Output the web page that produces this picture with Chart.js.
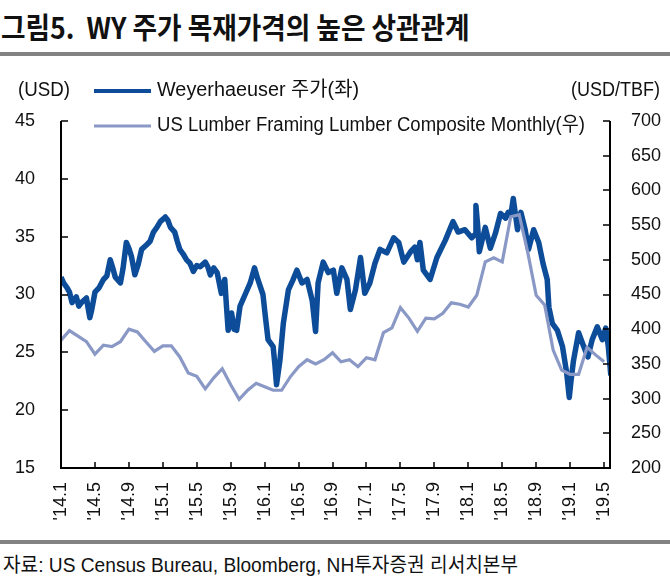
<!DOCTYPE html>
<html>
<head>
<meta charset="utf-8">
<script src="https://cdn.jsdelivr.net/npm/chart.js@4.4.1/dist/chart.umd.min.js"></script>
<style>
  body { margin: 0; background: #fff; width: 670px; height: 584px; overflow: hidden; position: relative; }
  #title { position: absolute; left: 1px; top: 5px; font: bold 29px "Liberation Sans Narrow", "Noto Sans CJK KR", sans-serif; white-space: nowrap; transform-origin: 0 0; color: #111; }
  .bar { position: absolute; left: 0; width: 670px; height: 4px; background: #828282; }
  #source { position: absolute; left: 3px; top: 549px; font: 20px "Liberation Sans", "Noto Sans CJK KR", sans-serif; white-space: nowrap; transform-origin: 0 0; color: #111; }
  #wrap { position: absolute; left: 0; top: 0; width: 670px; height: 540px; }
</style>
</head>
<body>
<div id="title">그림5.&nbsp; WY 주가 목재가격의 높은 상관관계</div>
<div class="bar" style="top:52px"></div>
<div id="wrap"><canvas id="myChart"></canvas></div>
<div class="bar" style="top:540px"></div>
<div id="source">자료: US Census Bureau, Bloomberg, NH투자증권 리서치본부</div>
<script>
// months counted from Jan 2014 (0 = '14.1)
const xTickLabels = ["'14.1","'14.5","'14.9","'15.1","'15.5","'15.9","'16.1","'16.5","'16.9",
  "'17.1","'17.5","'17.9","'18.1","'18.5","'18.9","'19.1","'19.5"];

// Weyerhaeuser share price (USD, left axis)
const wyMonth = [0,0.3,0.7,1.0,1.3,1.8,2.1,2.4,3.0,3.2,3.4,3.6,4.0,4.5,5.0,5.4,5.8,6.1,6.4,7.0,
  7.3,7.7,8.0,8.3,8.7,9.1,9.5,10.1,10.5,10.9,11.3,11.7,12.3,12.6,12.9,13.4,13.7,14.0,14.4,14.8,
  15.2,15.6,16.0,16.4,17.0,17.3,17.6,18.0,18.4,18.9,19.3,19.5,19.7,20.1,20.4,20.7,21.1,21.7,22.3,22.8,
  23.2,23.8,24.1,24.4,25.0,25.2,25.4,25.8,26.2,26.8,27.3,27.8,28.4,29.0,29.6,30.0,30.3,30.9,31.5,32.1,
  32.5,33.1,33.7,34.1,34.7,35.3,35.8,36.4,37.0,37.6,38.4,39.2,39.8,40.4,41.2,41.7,42.0,42.3,42.7,43.5,
  44.3,45.3,46.2,46.8,47.6,48.4,48.8,48.9,49.1,49.3,50.0,50.6,51.2,51.8,52.4,52.7,53.0,53.3,53.8,54.2,
  54.7,55.1,55.7,56.3,56.8,57.3,57.5,57.9,58.5,59.1,59.6,59.9,60.1,60.4,61.0,61.6,62.1,62.6,63.2,63.8,
  64.2,64.5,64.8];
const wyPrice = [31.5,31.0,30.6,30.2,29.3,29.8,29.0,29.3,29.7,28.8,28.0,28.6,30.2,30.6,31.3,31.6,33.0,32.3,31.5,31.0,
  32.2,34.5,34.0,33.3,31.7,32.6,33.9,34.3,34.6,35.4,35.8,36.3,36.7,36.4,35.8,35.4,34.6,33.9,33.5,33.0,
  32.7,32.0,32.5,32.4,32.8,32.4,31.7,32.3,31.9,30.1,31.3,29.0,26.9,28.4,27.0,26.9,29.0,30.0,31.0,32.3,
  31.3,30.0,28.0,26.1,25.5,24.0,22.2,24.3,27.5,30.4,31.2,32.1,31.0,31.3,29.5,26.8,31.0,32.8,31.9,32.1,
  30.1,32.3,31.3,28.7,30.4,33.2,30.1,31.0,32.7,33.9,33.6,34.9,34.5,32.8,33.7,34.1,33.0,34.5,32.1,31.3,
  33.2,34.7,36.3,35.4,35.6,34.9,35.2,37.7,36.0,33.7,35.8,34.0,35.3,37.0,36.6,37.1,36.8,38.3,35.6,37.1,
  35.6,33.9,35.6,34.5,32.7,31.3,28.9,27.5,26.9,25.5,23.2,21.1,22.5,24.3,26.7,25.5,24.6,26.1,27.2,26.1,
  27.1,25.5,23.0];

// US framing lumber composite, monthly (USD/TBF, right axis), Jan 2014 .. May 2019
const lumberPrice = [384,398,390,382,364,377,375,382,400,396,382,368,376,376,360,337,332,314,330,343,
  320,299,312,322,317,312,312,331,346,356,350,356,366,353,356,346,359,356,395,402,
  431,416,397,416,415,423,438,436,432,449,497,503,497,562,565,511,449,435,370,341,
  335,335,374,363,353];

const wyColor = '#0d4c98';
const lumberColor = '#8a98c6';
const fontMain = '"Liberation Sans", "Noto Sans CJK KR", sans-serif';

const wyData = wyMonth.map((m, i) => ({ x: m, y: wyPrice[i] }));
const lumberData = lumberPrice.map((v, i) => ({ x: i, y: v }));

function fitText(ctx, text, x, y, w) {
  const mw = ctx.measureText(text).width;
  ctx.save();
  ctx.translate(x, y);
  ctx.scale(w / mw, 1);
  ctx.fillText(text, 0, 0);
  ctx.restore();
}

const decor = {
  id: 'decor',
  afterDraw(chart) {
    const { ctx, chartArea: a, scales } = chart;
    ctx.save();
    // frame
    ctx.strokeStyle = '#000';
    ctx.lineWidth = 2;
    ctx.beginPath();
    ctx.moveTo(a.left, a.top);
    ctx.lineTo(a.left, a.bottom);
    ctx.lineTo(a.right, a.bottom);
    ctx.lineTo(a.right, a.top);
    ctx.stroke();
    // inward ticks
    ctx.lineWidth = 1.5;
    ctx.beginPath();
    scales.y.ticks.forEach(t => {
      const y = Math.round(scales.y.getPixelForValue(t.value));
      ctx.moveTo(a.left, y); ctx.lineTo(a.left + 7, y);
    });
    scales.y1.ticks.forEach(t => {
      const y = Math.round(scales.y1.getPixelForValue(t.value));
      ctx.moveTo(a.right, y); ctx.lineTo(a.right - 7, y);
    });
    scales.x.ticks.forEach(t => {
      const x = Math.round(scales.x.getPixelForValue(t.value));
      ctx.moveTo(x, a.bottom); ctx.lineTo(x, a.bottom - 6);
    });
    ctx.stroke();

    // legend and unit labels
    ctx.fillStyle = '#111';
    ctx.textBaseline = 'middle';
    ctx.font = '20px ' + fontMain;
    fitText(ctx, '(USD)', 18, 90, 52);
    fitText(ctx, '(USD/TBF)', 571, 90, 89);
    fitText(ctx, 'Weyerhaeuser 주가(좌)', 157, 90, 202);
    fitText(ctx, 'US Lumber Framing Lumber Composite Monthly(우)', 157, 125, 428);
    ctx.lineWidth = 4;
    ctx.strokeStyle = wyColor;
    ctx.beginPath(); ctx.moveTo(94, 91); ctx.lineTo(151, 91); ctx.stroke();
    ctx.lineWidth = 3;
    ctx.strokeStyle = lumberColor;
    ctx.beginPath(); ctx.moveTo(94, 126); ctx.lineTo(151, 126); ctx.stroke();
    ctx.restore();
  }
};

const tickFont = { family: fontMain, size: 18 };

new Chart(document.getElementById('myChart'), {
  type: 'line',
  data: {
    datasets: [
      {
        label: 'US Lumber Framing Lumber Composite Monthly(우)',
        data: lumberData,
        yAxisID: 'y1',
        borderColor: lumberColor,
        borderWidth: 3.2,
        pointRadius: 0,
        tension: 0,
        order: 0,
      },
      {
        label: 'Weyerhaeuser 주가(좌)',
        data: wyData,
        yAxisID: 'y',
        borderColor: wyColor,
        borderWidth: 5.5,
        borderJoinStyle: 'round',
        pointRadius: 0,
        tension: 0,
        order: 1,
      },
    ],
  },
  options: {
    responsive: true,
    maintainAspectRatio: false,
    animation: false,
    layout: { padding: { top: 121, left: 0, right: 0, bottom: 0 } },
    plugins: { legend: { display: false }, tooltip: { enabled: false } },
    scales: {
      x: {
        type: 'linear',
        min: 0,
        max: 64.7,
        grid: { display: false, drawTicks: false },
        border: { display: false },
        ticks: {
          stepSize: 4,
          includeBounds: false,
          autoSkip: false,
          minRotation: 90,
          maxRotation: 90,
          padding: 14,
          color: '#111',
          font: tickFont,
          callback: (v) => xTickLabels[v / 4],
        },
        afterFit: (s) => { s.height = 72; },
      },
      y: {
        position: 'left',
        min: 15,
        max: 45,
        grid: { display: false, drawTicks: false },
        border: { display: false },
        ticks: { stepSize: 5, padding: 26, color: '#111', font: tickFont },
        afterFit: (s) => { s.width = 61; },
      },
      y1: {
        position: 'right',
        min: 200,
        max: 700,
        grid: { display: false, drawTicks: false },
        border: { display: false },
        ticks: { stepSize: 50, padding: 21, color: '#111', font: tickFont },
        afterFit: (s) => { s.width = 60; },
      },
    },
  },
  plugins: [decor],
});

// squeeze the title and source lines to the width they take in the original
function fitWidth(id, w) {
  const el = document.getElementById(id);
  el.style.transform = 'scaleX(' + (w / el.scrollWidth) + ')';
}
fitWidth('title', 469);
fitWidth('source', 515);
</script>
</body>
</html>
